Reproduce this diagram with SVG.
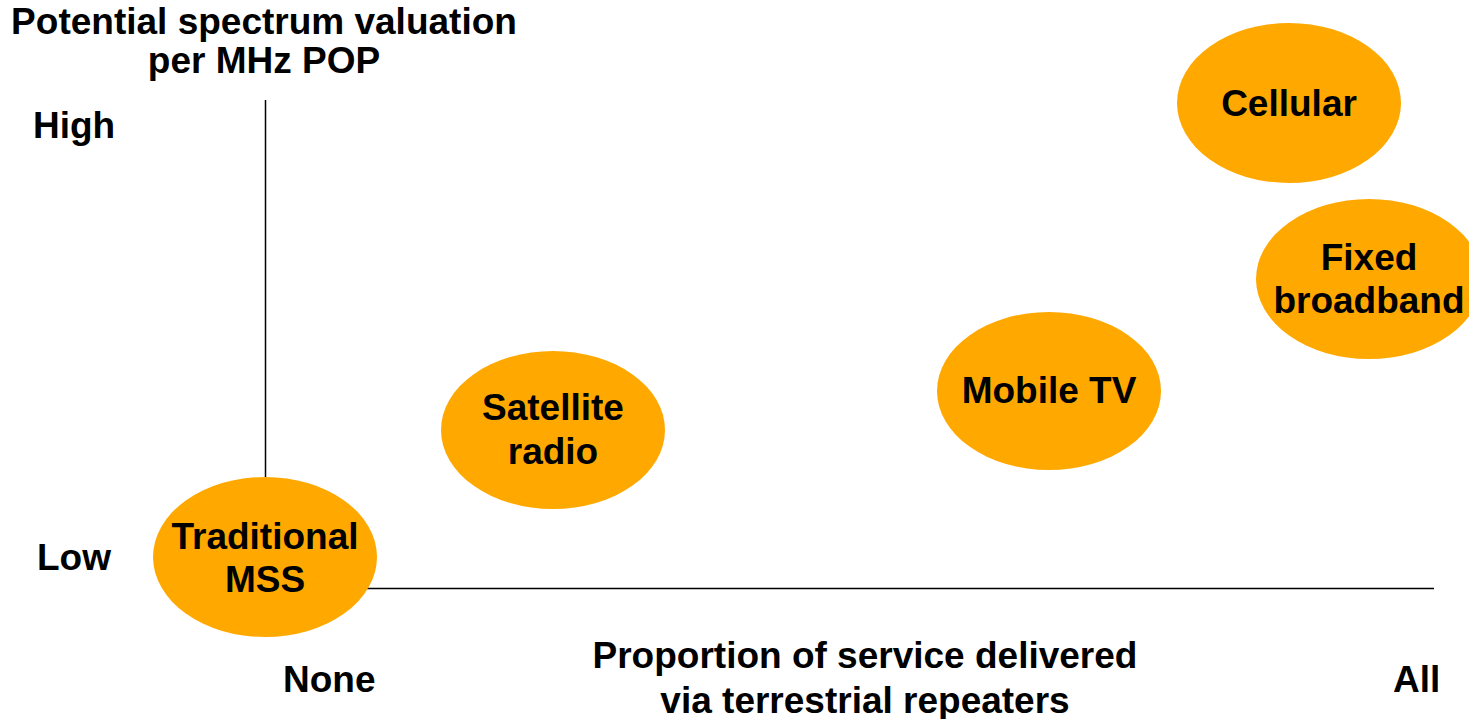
<svg xmlns="http://www.w3.org/2000/svg" width="1469" height="719" viewBox="0 0 1469 719">
<style>
text{font-family:"Liberation Sans",Arial,sans-serif;font-weight:bold;font-size:37px;fill:#000}
.c{text-anchor:middle}
.n{fill:#FFA800}
.ax{stroke:#000;stroke-width:1.5;fill:none}
</style>
<rect width="1469" height="719" fill="#fff"/>
<g id="connectors">
<line class="ax" x1="265.5" y1="100" x2="265.5" y2="480"/>
<line class="ax" x1="360" y1="588.5" x2="1434" y2="588.5"/>
</g>
<g id="labels">
<text class="c" x="264" y="34">Potential spectrum valuation</text>
<text class="c" x="264" y="73">per MHz POP</text>
<text x="33" y="138">High</text>
<text x="37" y="570">Low</text>
<text x="283" y="692">None</text>
<text x="1393" y="692">All</text>
<text class="c" x="865" y="668">Proportion of service delivered</text>
<text class="c" x="865" y="713">via terrestrial repeaters</text>
</g>
<g id="cellular"><ellipse class="n" cx="1289" cy="103" rx="112" ry="80"/><text class="c" x="1289" y="116">Cellular</text></g>
<g id="fixed-broadband"><ellipse class="n" cx="1369" cy="279" rx="113" ry="80"/><text class="c" x="1369" y="270">Fixed</text><text class="c" x="1369" y="313">broadband</text></g>
<g id="mobile-tv"><ellipse class="n" cx="1049" cy="391" rx="112" ry="79"/><text class="c" x="1049" y="403">Mobile TV</text></g>
<g id="satellite-radio"><ellipse class="n" cx="553" cy="430" rx="112" ry="79"/><text class="c" x="553" y="420">Satellite</text><text class="c" x="553" y="464">radio</text></g>
<g id="traditional-mss"><ellipse class="n" cx="265" cy="557" rx="112" ry="80"/><text class="c" x="265" y="549">Traditional</text><text class="c" x="265" y="592">MSS</text></g>
</svg>
